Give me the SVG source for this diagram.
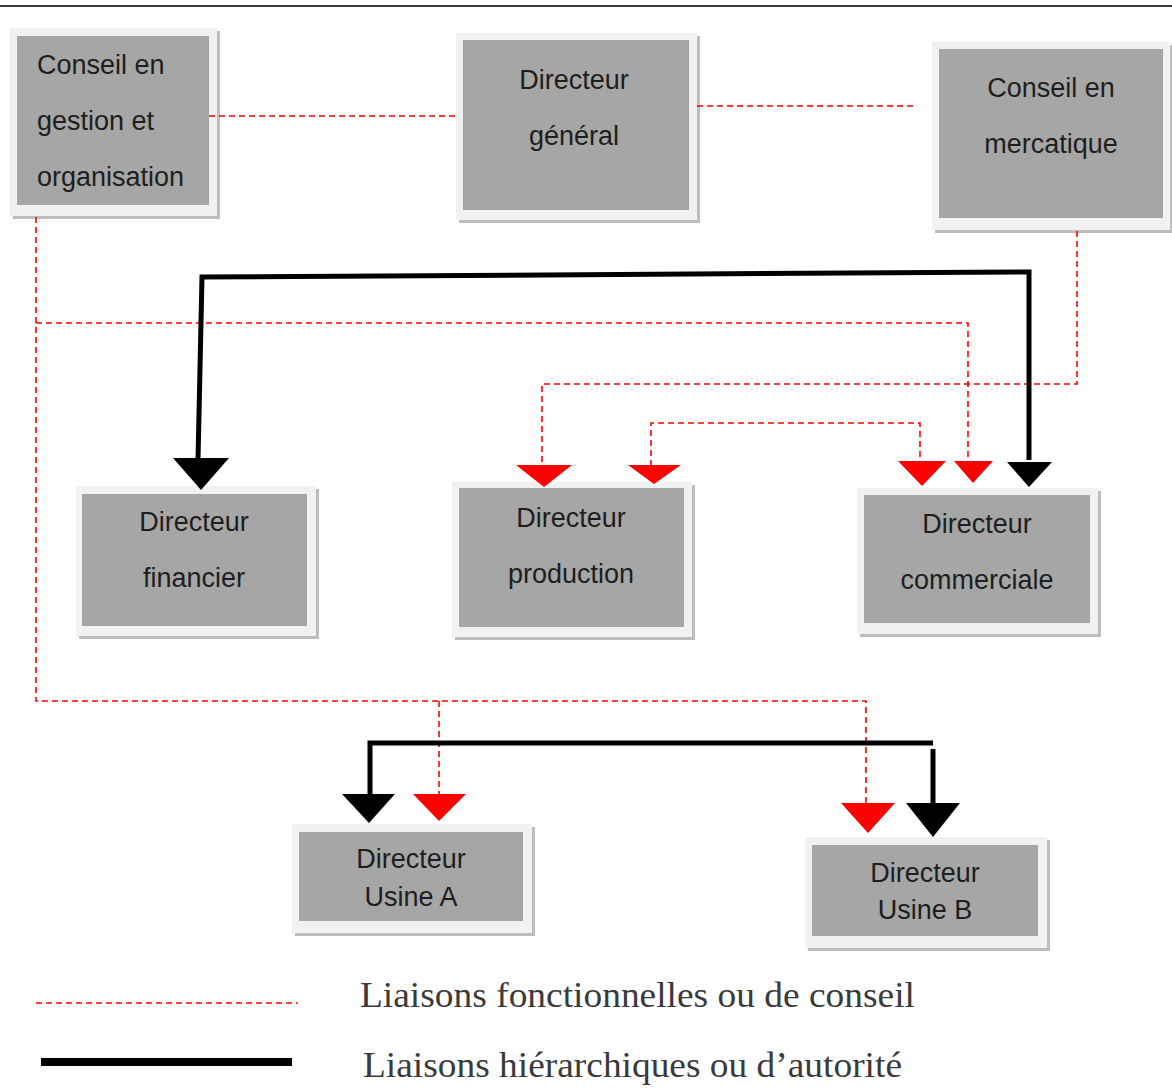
<svg xmlns="http://www.w3.org/2000/svg" width="1172" height="1088" viewBox="0 0 1172 1088">
  <style>
    .shadow { fill: #bdbdbd; }
    .frame { fill: #f1f1f1; }
    .body { fill: #a6a6a6; }
    .lbl { font-family: "Liberation Sans", Arial, sans-serif; font-size: 27px; fill: #1e1e1e; }
    .mid { text-anchor: middle; }
    .func { fill: none; stroke: #ff0000; stroke-width: 1.6; stroke-dasharray: 6 4; }
    .hier { fill: none; stroke: #000000; stroke-width: 5; }
    .redtip { fill: #ff0000; }
    .blacktip { fill: #000000; }
    .legend { font-family: "Liberation Serif", "Times New Roman", serif; font-size: 36px; fill: #3a3a3a; }
  </style>

  <rect width="1172" height="1088" fill="#ffffff"/>
  <line x1="0" y1="6" x2="1172" y2="6" stroke="#3c3c3c" stroke-width="2"/>

  <!-- Nodes -->
  <g id="conseil-gestion">
    <rect class="shadow" x="13" y="31" width="207" height="188"/>
    <rect class="frame" x="10" y="28" width="207" height="188"/>
    <rect class="body" x="17" y="36" width="192" height="169"/>
    <text class="lbl" x="37" y="74">Conseil en</text>
    <text class="lbl" x="37" y="130">gestion et</text>
    <text class="lbl" x="37" y="186">organisation</text>
  </g>

  <g id="directeur-general">
    <rect class="shadow" x="459" y="36" width="241" height="187"/>
    <rect class="frame" x="456" y="33" width="241" height="187"/>
    <rect class="body" x="463" y="40" width="226" height="170"/>
    <text class="lbl mid" x="574" y="89">Directeur</text>
    <text class="lbl mid" x="574" y="145">général</text>
  </g>

  <g id="conseil-mercatique">
    <rect class="shadow" x="935" y="45" width="238" height="188"/>
    <rect class="frame" x="932" y="42" width="238" height="188"/>
    <rect class="body" x="939" y="49" width="224" height="169"/>
    <text class="lbl mid" x="1051" y="97">Conseil en</text>
    <text class="lbl mid" x="1051" y="153">mercatique</text>
  </g>

  <g id="directeur-financier">
    <rect class="shadow" x="79" y="489" width="240" height="150"/>
    <rect class="frame" x="76" y="486" width="240" height="150"/>
    <rect class="body" x="82" y="494" width="225" height="132"/>
    <text class="lbl mid" x="194" y="531">Directeur</text>
    <text class="lbl mid" x="194" y="587">financier</text>
  </g>

  <g id="directeur-production">
    <rect class="shadow" x="455" y="485" width="240" height="155"/>
    <rect class="frame" x="452" y="482" width="240" height="155"/>
    <rect class="body" x="459" y="488" width="225" height="139"/>
    <text class="lbl mid" x="571" y="527">Directeur</text>
    <text class="lbl mid" x="571" y="583">production</text>
  </g>

  <g id="directeur-commerciale">
    <rect class="shadow" x="860" y="491" width="241" height="146"/>
    <rect class="frame" x="857" y="488" width="241" height="146"/>
    <rect class="body" x="864" y="495" width="226" height="128"/>
    <text class="lbl mid" x="977" y="533">Directeur</text>
    <text class="lbl mid" x="977" y="589">commerciale</text>
  </g>

  <g id="directeur-usine-a">
    <rect class="shadow" x="295" y="827" width="240" height="109"/>
    <rect class="frame" x="292" y="824" width="240" height="109"/>
    <rect class="body" x="299" y="832" width="224" height="89"/>
    <text class="lbl mid" x="411" y="868">Directeur</text>
    <text class="lbl mid" x="411" y="906">Usine A</text>
  </g>

  <g id="directeur-usine-b">
    <rect class="shadow" x="808" y="840" width="242" height="111"/>
    <rect class="frame" x="805" y="837" width="242" height="111"/>
    <rect class="body" x="812" y="845" width="226" height="91"/>
    <text class="lbl mid" x="925" y="882">Directeur</text>
    <text class="lbl mid" x="925" y="919">Usine B</text>
  </g>

  <!-- Connectors -->
  <g id="connectors">
    <!-- functional / advisory links -->
    <path class="func" d="M209 116 H458"/>
    <path class="func" d="M697 106 H913"/>
    <path class="func" d="M36 217 V701 H866 V806"/>
    <path class="func" d="M439 701 V795"/>
    <path class="func" d="M36 323 H968 V462"/>
    <path class="func" d="M1077 231 V384 H542 V466"/>
    <path class="func" d="M651 466 V423 H920 V462"/>

    <!-- red arrowheads -->
    <polygon class="redtip" points="516,465 572,465 544,487"/>
    <polygon class="redtip" points="628,465 681,465 654,484"/>
    <polygon class="redtip" points="898,461 946,461 922,486"/>
    <polygon class="redtip" points="954,461 993,461 973,483"/>
    <polygon class="redtip" points="413,794 466,794 439,821"/>
    <polygon class="redtip" points="841,803 895,803 868,833"/>

    <!-- hierarchical links -->
    <path class="hier" d="M198 460 L202 277 L1029 272 V460"/>
    <path class="hier" d="M370 796 V743 H933"/>
    <path class="hier" d="M933 749 V806"/>

    <!-- black arrowheads -->
    <polygon class="blacktip" points="173,458 229,458 201,490"/>
    <polygon class="blacktip" points="1007,462 1052,462 1029,487"/>
    <polygon class="blacktip" points="342,794 395,794 369,823"/>
    <polygon class="blacktip" points="906,803 960,803 933,837"/>
  </g>

  <!-- Legend -->
  <g id="legend">
    <line class="func" x1="36" y1="1003" x2="298" y2="1003"/>
    <line x1="41" y1="1062" x2="292" y2="1062" stroke="#000000" stroke-width="8"/>
    <text class="legend" x="360" y="1007" textLength="555" lengthAdjust="spacingAndGlyphs">Liaisons fonctionnelles ou de conseil</text>
    <text class="legend" x="363" y="1077" textLength="539" lengthAdjust="spacingAndGlyphs">Liaisons hiérarchiques ou d’autorité</text>
  </g>
</svg>
